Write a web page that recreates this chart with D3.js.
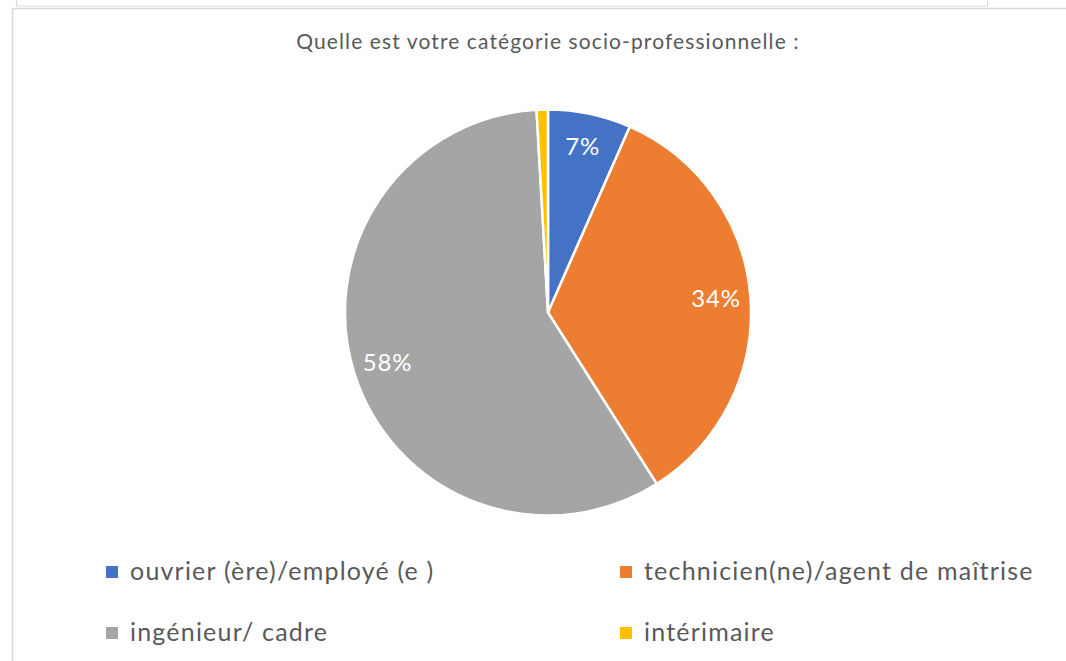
<!DOCTYPE html>
<html>
<head>
<meta charset="utf-8">
<script src="https://cdn.jsdelivr.net/npm/d3@7"></script>
<style>
  body { margin: 0; background: #fff; }
  svg { display: block; }
</style>
</head>
<body>
<svg width="1066" height="661"></svg>
<script>
// data
var categories = ["ouvrier (ère)/employé (e )", "technicien(ne)/agent de maîtrise", "ingénieur/ cadre", "intérimaire"];
var values = [6.6, 34.4, 58.1, 0.9];
var labels = ["7%", "34%", "58%", ""];
var colors = ["#4472C4", "#ED7D31", "#A5A5A5", "#FFC000"];

var svg = d3.select("svg"),
    cx = 548, cy = 312.5,
    radius = 203;

// frames from the surrounding document
svg.append("rect")
  .attr("x", 16.5).attr("y", -2).attr("width", 971).attr("height", 8)
  .attr("fill", "#fff").attr("stroke", "#d9d9d9");
svg.append("path")
  .attr("d", "M12.5,661 V8.5 H1066")
  .attr("fill", "none").attr("stroke", "#d9d9d9").attr("stroke-width", 1.5);

svg.append("text")
  .attr("x", cx).attr("y", 49)
  .attr("text-anchor", "middle")
  .attr("font-family", "Lato, sans-serif")
  .attr("font-size", 21)
  .attr("letter-spacing", 1.1)
  .attr("fill", "#595959")
  .text("Quelle est votre catégorie socio-professionnelle :");

var pie = d3.pie().sort(null).value(function(d) { return d; });
var arc = d3.arc().outerRadius(radius).innerRadius(0);
var labelArc = d3.arc().outerRadius(radius * 0.83).innerRadius(radius * 0.83);

var g = svg.append("g").attr("transform", "translate(" + cx + "," + cy + ")");

var slices = g.selectAll(".arc")
  .data(pie(values))
  .enter().append("g")
    .attr("class", "arc");

slices.append("path")
  .attr("d", arc)
  .attr("fill", function(d, i) { return colors[i]; })
  .attr("stroke", "#fff")
  .attr("stroke-width", 2.5)
  .attr("stroke-linejoin", "round");

slices.append("text")
  .attr("transform", function(d) { return "translate(" + labelArc.centroid(d) + ")"; })
  .attr("dy", "0.3em")
  .attr("text-anchor", "middle")
  .attr("font-family", "Lato, sans-serif")
  .attr("font-size", 24)
  .attr("letter-spacing", 0.8)
  .attr("fill", "#fff")
  .text(function(d, i) { return labels[i]; });

// legend, two columns
var legend = svg.selectAll(".legend")
  .data(categories)
  .enter().append("g")
    .attr("class", "legend")
    .attr("transform", function(d, i) {
      return "translate(" + (i % 2 === 0 ? 106 : 620) + "," + (566 + Math.floor(i / 2) * 61) + ")";
    });

legend.append("rect")
  .attr("width", 12).attr("height", 12)
  .attr("fill", function(d, i) { return colors[i]; });

legend.append("text")
  .attr("x", 24).attr("y", 6)
  .attr("dy", "0.3em")
  .attr("font-family", "Lato, sans-serif")
  .attr("font-size", 25)
  .attr("letter-spacing", 1.2)
  .attr("fill", "#595959")
  .text(function(d) { return d; });
</script>
</body>
</html>
